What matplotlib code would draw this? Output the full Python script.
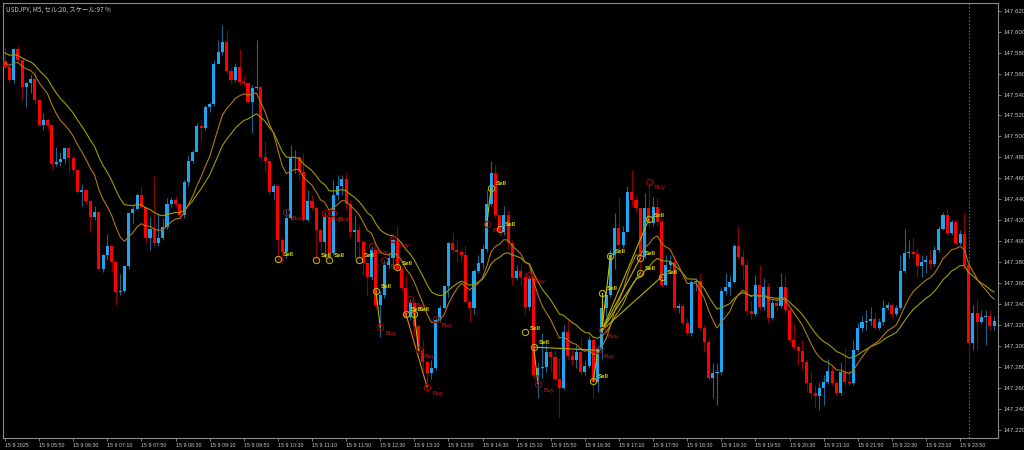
#!/usr/bin/env python3
"""USDJPY M5 candlestick chart (MetaTrader style) with two moving averages and trade marks."""
from datetime import datetime, timedelta

import matplotlib

matplotlib.use("Agg")
import matplotlib.pyplot as plt
import numpy as np

# ---- data ----
title_text = "USDJPY, M5, セル:20, スケール:97 %"
start_time = datetime(2025, 9, 15, 5, 10)
first_open = 147.572

closes = [
    147.566, 147.554, 147.583, 147.573, 147.547, 147.551, 147.555, 147.535, 147.511, 147.516,
    147.511, 147.474, 147.476, 147.478, 147.489, 147.479, 147.468, 147.447, 147.449, 147.438,
    147.423, 147.428, 147.374, 147.387, 147.395, 147.380, 147.352, 147.353, 147.376, 147.427,
    147.431, 147.444, 147.433, 147.403, 147.412, 147.398, 147.403, 147.414, 147.436, 147.439,
    147.436, 147.425, 147.457, 147.477, 147.485, 147.510, 147.508, 147.528, 147.531, 147.569,
    147.581, 147.590, 147.562, 147.554, 147.566, 147.552, 147.551, 147.533, 147.546, 147.547,
    147.480, 147.477, 147.447, 147.453, 147.401, 147.390, 147.422, 147.479, 147.480, 147.466,
    147.420, 147.438, 147.432, 147.411, 147.399, 147.423, 147.389, 147.444, 147.453, 147.459,
    147.436, 147.409, 147.411, 147.399, 147.379, 147.366, 147.392, 147.339, 147.349, 147.377,
    147.384, 147.401, 147.374, 147.355, 147.328, 147.341, 147.319, 147.296, 147.285, 147.274,
    147.279, 147.325, 147.336, 147.357, 147.398, 147.392, 147.390, 147.387, 147.342, 147.336,
    147.372, 147.379, 147.393, 147.436, 147.465, 147.425, 147.409, 147.425, 147.398, 147.365,
    147.372, 147.366, 147.337, 147.365, 147.272, 147.279, 147.280, 147.294, 147.290, 147.269,
    147.260, 147.313, 147.291, 147.287, 147.294, 147.275, 147.281, 147.306, 147.266, 147.297,
    147.336, 147.349, 147.387, 147.413, 147.396, 147.409, 147.447, 147.439, 147.432, 147.385,
    147.432, 147.417, 147.433, 147.418, 147.358, 147.377, 147.380, 147.336, 147.338, 147.322,
    147.312, 147.361, 147.362, 147.317, 147.304, 147.270, 147.274, 147.275, 147.353, 147.356,
    147.361, 147.395, 147.385, 147.377, 147.333, 147.331, 147.358, 147.337, 147.356, 147.327,
    147.341, 147.338, 147.356, 147.334, 147.306, 147.299, 147.295, 147.285, 147.265, 147.255,
    147.252, 147.260, 147.266, 147.276, 147.265, 147.255, 147.275, 147.266, 147.265, 147.296,
    147.317, 147.323, 147.324, 147.326, 147.317, 147.323, 147.336, 147.339, 147.331, 147.336,
    147.372, 147.389, 147.390, 147.388, 147.376, 147.380, 147.382, 147.378, 147.392, 147.412,
    147.425, 147.408, 147.418, 147.398, 147.407, 147.377, 147.303, 147.332, 147.323, 147.328,
    147.329, 147.319, 147.324,
]

highs = [
    147.585, 147.568, 147.584, 147.586, 147.573, 147.552, 147.560, 147.564, 147.535, 147.522,
    147.517, 147.511, 147.490, 147.485, 147.490, 147.492, 147.482, 147.468, 147.455, 147.449,
    147.438, 147.434, 147.428, 147.388, 147.407, 147.395, 147.380, 147.369, 147.377, 147.428,
    147.434, 147.446, 147.453, 147.433, 147.423, 147.462, 147.427, 147.422, 147.441, 147.442,
    147.443, 147.436, 147.458, 147.482, 147.487, 147.513, 147.517, 147.530, 147.533, 147.573,
    147.592, 147.606, 147.602, 147.565, 147.570, 147.583, 147.559, 147.551, 147.549, 147.592,
    147.548, 147.496, 147.477, 147.455, 147.455, 147.403, 147.430, 147.492, 147.487, 147.480,
    147.484, 147.449, 147.444, 147.434, 147.412, 147.428, 147.429, 147.458, 147.463, 147.463,
    147.465, 147.439, 147.425, 147.415, 147.401, 147.380, 147.395, 147.393, 147.353, 147.382,
    147.390, 147.403, 147.415, 147.376, 147.368, 147.345, 147.344, 147.320, 147.306, 147.286,
    147.287, 147.327, 147.339, 147.358, 147.399, 147.408, 147.401, 147.393, 147.396, 147.344,
    147.374, 147.387, 147.396, 147.449, 147.477, 147.473, 147.425, 147.434, 147.430, 147.401,
    147.377, 147.377, 147.370, 147.368, 147.368, 147.285, 147.312, 147.301, 147.296, 147.296,
    147.289, 147.320, 147.325, 147.296, 147.301, 147.308, 147.287, 147.310, 147.308, 147.301,
    147.351, 147.353, 147.392, 147.427, 147.442, 147.415, 147.453, 147.468, 147.444, 147.432,
    147.446, 147.456, 147.442, 147.441, 147.422, 147.387, 147.387, 147.387, 147.341, 147.341,
    147.327, 147.363, 147.365, 147.370, 147.320, 147.306, 147.284, 147.284, 147.355, 147.370,
    147.368, 147.397, 147.415, 147.392, 147.382, 147.344, 147.368, 147.377, 147.365, 147.360,
    147.344, 147.344, 147.370, 147.368, 147.336, 147.322, 147.301, 147.306, 147.288, 147.275,
    147.263, 147.265, 147.272, 147.288, 147.282, 147.267, 147.285, 147.298, 147.277, 147.306,
    147.322, 147.329, 147.334, 147.337, 147.332, 147.327, 147.344, 147.342, 147.341, 147.339,
    147.387, 147.412, 147.401, 147.404, 147.394, 147.387, 147.387, 147.392, 147.395, 147.415,
    147.428, 147.431, 147.420, 147.420, 147.411, 147.428, 147.380, 147.339, 147.344, 147.334,
    147.334, 147.334, 147.329,
]

lows = [
    147.565, 147.552, 147.551, 147.572, 147.535, 147.528, 147.541, 147.532, 147.510, 147.506,
    147.506, 147.469, 147.472, 147.472, 147.474, 147.465, 147.465, 147.446, 147.434, 147.436,
    147.409, 147.420, 147.372, 147.371, 147.382, 147.371, 147.339, 147.349, 147.352, 147.374,
    147.417, 147.431, 147.432, 147.398, 147.392, 147.395, 147.395, 147.401, 147.412, 147.433,
    147.433, 147.422, 147.422, 147.453, 147.475, 147.485, 147.496, 147.506, 147.523, 147.529,
    147.569, 147.578, 147.560, 147.550, 147.552, 147.549, 147.548, 147.532, 147.503, 147.544,
    147.477, 147.466, 147.444, 147.439, 147.380, 147.380, 147.384, 147.420, 147.465, 147.458,
    147.418, 147.418, 147.430, 147.382, 147.389, 147.384, 147.380, 147.387, 147.439, 147.444,
    147.430, 147.403, 147.384, 147.382, 147.368, 147.348, 147.363, 147.336, 147.309, 147.346,
    147.374, 147.374, 147.372, 147.353, 147.327, 147.325, 147.310, 147.294, 147.277, 147.256,
    147.269, 147.277, 147.323, 147.336, 147.347, 147.389, 147.380, 147.380, 147.341, 147.323,
    147.331, 147.370, 147.374, 147.390, 147.434, 147.422, 147.406, 147.406, 147.392, 147.358,
    147.363, 147.358, 147.331, 147.334, 147.269, 147.250, 147.270, 147.275, 147.275, 147.267,
    147.231, 147.258, 147.288, 147.282, 147.279, 147.272, 147.272, 147.279, 147.250, 147.256,
    147.288, 147.329, 147.347, 147.374, 147.392, 147.394, 147.409, 147.434, 147.428, 147.368,
    147.384, 147.414, 147.415, 147.415, 147.356, 147.358, 147.372, 147.334, 147.332, 147.320,
    147.310, 147.310, 147.353, 147.315, 147.294, 147.269, 147.250, 147.244, 147.272, 147.349,
    147.349, 147.360, 147.382, 147.363, 147.329, 147.325, 147.329, 147.334, 147.334, 147.322,
    147.325, 147.334, 147.336, 147.332, 147.304, 147.296, 147.282, 147.277, 147.256, 147.250,
    147.241, 147.239, 147.244, 147.264, 147.263, 147.253, 147.253, 147.263, 147.262, 147.263,
    147.294, 147.313, 147.315, 147.320, 147.315, 147.315, 147.320, 147.334, 147.327, 147.329,
    147.334, 147.370, 147.384, 147.384, 147.366, 147.366, 147.370, 147.374, 147.376, 147.390,
    147.411, 147.406, 147.406, 147.396, 147.396, 147.374, 147.282, 147.296, 147.296, 147.321,
    147.301, 147.315, 147.315,
]

# moving averages: exponential, with the level each line enters the chart at
fast_period = 12
slow_period = 22
fast_start = 147.571
slow_start = 147.581
day_separator_bar = 226
last_time_label_bar = 224

sell_bars = [64, 73, 76, 83, 87, 92, 94, 96, 114, 116, 122, 124, 138, 140, 142, 149, 149, 151, 154]
sell_prices = [147.383, 147.382, 147.382, 147.382, 147.353, 147.375, 147.331, 147.331, 147.451,
               147.412, 147.313, 147.299, 147.267, 147.351, 147.386, 147.384, 147.370, 147.421,
               147.366]
buy_bars = [66, 75, 77, 86, 89, 91, 88, 95, 97, 99, 101, 113, 123, 125, 139, 140, 151]
buy_prices = [147.428, 147.427, 147.427, 147.395, 147.382, 147.402, 147.318, 147.345, 147.296,
              147.261, 147.326, 147.416, 147.368, 147.264, 147.296, 147.315, 147.457]

trade_open_bars = [87, 94, 96, 113, 124, 124, 140, 142, 140, 140, 140, 140, 138]
trade_open_prices = [147.353, 147.331, 147.331, 147.416, 147.299, 147.299, 147.351, 147.386,
                     147.315, 147.315, 147.315, 147.315, 147.267]
trade_close_bars = [88, 99, 97, 114, 125, 139, 140, 140, 149, 149, 151, 154, 139]
trade_close_prices = [147.318, 147.261, 147.296, 147.451, 147.264, 147.296, 147.315, 147.315,
                      147.384, 147.370, 147.421, 147.366, 147.296]
trade_colors = ["#b8b000", "#e08a00", "#c8c000", "#c8c000", "#b8b000", "#b8b000", "#c8c000",
                "#c8c000", "#b8b000", "#b8b000", "#b8b000", "#b8b000", "#b8b000"]

# ---- style ----
BG = "#000000"
FG = "#c8c8c8"
FRAME = "#8a8a8a"
BULL = "#1aa6f2"
BEAR = "#ff0000"
BULL_WICK = "#18648c"
BEAR_WICK = "#8c0000"
FAST_COLOR = "#b07814"
SLOW_COLOR = "#a09c00"
TICK_FONT = ["Liberation Sans", "DejaVu Sans"]

plt.rcParams["font.family"] = ["DejaVu Sans"]


def ema(values: np.ndarray, period: int, start: float) -> np.ndarray:
    alpha = 2.0 / (period + 1)
    out = np.empty_like(values)
    level = start
    for i, v in enumerate(values):
        level += alpha * (v - level)
        out[i] = level
    return out


def main() -> None:
    c = np.array(closes)
    o = np.array([first_open] + closes[:-1])
    h = np.array(highs)
    lo = np.array(lows)
    x = np.arange(len(c))
    up = c >= o

    fig = plt.figure(figsize=(10.24, 4.5), dpi=100, facecolor=BG)
    ax = fig.add_axes([3 / 1024, 12 / 450, 995 / 1024, 435 / 450], facecolor=BG)

    # candles
    ax.vlines(x[up], lo[up], h[up], color=BULL_WICK, linewidth=0.8, zorder=2)
    ax.vlines(x[~up], lo[~up], h[~up], color=BEAR_WICK, linewidth=0.8, zorder=2)
    body = np.maximum(np.abs(c - o), 0.0006)
    ax.bar(x, body, bottom=np.minimum(o, c), width=0.72,
           color=np.where(up, BULL, BEAR), linewidth=0, zorder=3)

    # moving averages
    ax.plot(x, ema(c, slow_period, slow_start), color=SLOW_COLOR, linewidth=0.8, zorder=4)
    ax.plot(x, ema(c, fast_period, fast_start), color=FAST_COLOR, linewidth=0.8, zorder=4)

    # trade history
    for x0, y0, x1, y1, col in zip(trade_open_bars, trade_open_prices, trade_close_bars,
                                   trade_close_prices, trade_colors):
        ax.plot([x0, x1], [y0, y1], color=col, linewidth=0.8, zorder=5)
    ax.plot(sell_bars, sell_prices, linestyle="none", marker="o", markersize=4.5,
            markerfacecolor="none", markeredgecolor="#b4b000", markeredgewidth=0.8, zorder=6)
    ax.plot(buy_bars, buy_prices, linestyle="none", marker="o", markersize=4.5,
            markerfacecolor="none", markeredgecolor="#a00000", markeredgewidth=0.8, zorder=6)
    for bx, by in zip(sell_bars, sell_prices):
        ax.annotate("Sell", (bx, by), xytext=(3.5, 3), textcoords="offset points",
                    fontsize=4.4, fontweight="bold", color="#e8e000", family=TICK_FONT,
                    ha="left", va="center", zorder=7)
    for bx, by in zip(buy_bars, buy_prices):
        ax.annotate("Buy", (bx, by), xytext=(4, -4.5), textcoords="offset points",
                    fontsize=4.6, color="#d41a1a", family=TICK_FONT,
                    ha="left", va="center", zorder=7)

    ax.axvline(day_separator_bar, color="#9a9a9a", linewidth=0.6,
               linestyle=(0, (1.5, 2.5)), zorder=1)

    # axes
    ax.set_xlim(-0.47, 232.9)
    ax.set_ylim(147.2123, 147.6273)
    for side in ("left", "right", "top", "bottom"):
        ax.spines[side].set_color(FRAME)
        ax.spines[side].set_linewidth(0.8)

    ax.yaxis.tick_right()
    yt = np.round(np.arange(147.220, 147.6201, 0.020), 3)
    ax.set_yticks(yt)
    ax.set_yticklabels([f"{v:.3f}" for v in yt], family=TICK_FONT)
    ax.tick_params(axis="y", colors=FRAME, labelcolor=FG, labelsize=4.4, length=2.5,
                   width=0.6, pad=1.2)

    tick_bars = list(range(0, last_time_label_bar + 1, 8))
    labels = []
    for i in tick_bars:
        t = start_time + timedelta(minutes=5 * i)
        labels.append("15 9 2025" if i == 0 else f"15 9 {t:%H:%M}")
    ax.set_xticks(tick_bars)
    ax.set_xticklabels(labels, ha="left", family=TICK_FONT)
    ax.tick_params(axis="x", colors=FRAME, labelcolor=FG, labelsize=3.8, length=2,
                   width=0.6, pad=1.5)

    ax.text(0.003, 0.993, title_text, transform=ax.transAxes, ha="left", va="top",
            fontsize=4.6, color=FG, family=["Noto Sans CJK JP", "DejaVu Sans"])

    fig.savefig("out.png", dpi=100, facecolor=BG)
    plt.close(fig)


if __name__ == "__main__":
    main()
